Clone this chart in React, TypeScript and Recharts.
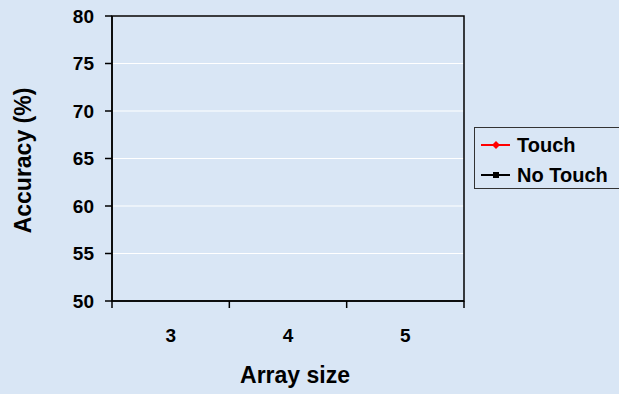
import React from 'react';
import { LineChart, Line, XAxis, YAxis, CartesianGrid, Legend, ReferenceArea } from 'recharts';

// Categories (array sizes) and series values. No data points are visible in the
// reference plot area, so the series are empty.
const arraySizes = [3, 4, 5];
const touchAccuracy: (number | null)[] = [null, null, null];
const noTouchAccuracy: (number | null)[] = [null, null, null];
const yTicks = [50, 55, 60, 65, 70, 75, 80];
const xTicks = [2.5, 3, 3.5, 4, 4.5, 5, 5.5];
const xDomain = [2.5, 5.5];
const yDomain = [50, 80];
const seriesNames = ['Touch', 'No Touch'];
const seriesKeys = ['touch', 'noTouch'];
const seriesColors = ['#ff0000', '#000000'];

const data = arraySizes.map((s, i) => ({
  size: s,
  touch: touchAccuracy[i],
  noTouch: noTouchAccuracy[i],
}));

const FONT = '"Liberation Sans", Arial, Helvetica, sans-serif';
const BG = '#d9e6f5';

const XTick = (props: any) => {
  const { x, y, payload } = props;
  const v = payload.value;
  if (Number.isInteger(v)) {
    return (
      <text x={x} y={y + 34} textAnchor="middle" fontSize={19} fontWeight="bold" fill="#000" fontFamily={FONT}>
        {v}
      </text>
    );
  }
  return <line x1={x} x2={x} y1={y - 7} y2={y} stroke="#000" strokeWidth={1.5} />;
};

const Diamond = (props: any) => {
  const { cx, cy, stroke } = props;
  if (cx == null || cy == null) return null;
  return <path d={`M${cx},${cy - 4}L${cx + 4},${cy}L${cx},${cy + 4}L${cx - 4},${cy}Z`} fill={stroke} />;
};
const Square = (props: any) => {
  const { cx, cy, stroke } = props;
  if (cx == null || cy == null) return null;
  return <rect x={cx - 3} y={cy - 3} width={6} height={6} fill={stroke} />;
};

const LegendContent = (props: any) => {
  const payload = [...(props.payload || [])].sort(
    (a: any, b: any) => seriesKeys.indexOf(a.dataKey) - seriesKeys.indexOf(b.dataKey)
  );
  return (
    <div
      style={{
        width: 160,
        height: 62,
        boxSizing: 'border-box',
        border: '1px solid #333',
        paddingTop: 2,
        fontFamily: FONT,
      }}
    >
      {payload.map((p: any, i: number) => (
        <div key={i} style={{ display: 'flex', alignItems: 'center', height: 30 }}>
          <svg width={42} height={30} style={{ flex: 'none' }}>
            <line x1={6} x2={35} y1={15} y2={15} stroke={p.color} strokeWidth={2} />
            {p.dataKey === 'touch' ? (
              <path d="M21,11L25,15L21,19L17,15Z" fill={p.color} />
            ) : (
              <rect x={18} y={12} width={6} height={6} fill={p.color} />
            )}
          </svg>
          <span style={{ fontSize: 20, fontWeight: 'bold', color: '#000', lineHeight: '30px', whiteSpace: 'nowrap' }}>
            {p.value}
          </span>
        </div>
      ))}
    </div>
  );
};

export default function App() {
  return (
    <div
      style={{
        position: 'absolute',
        left: 0,
        top: 0,
        width: 619,
        height: 394,
        overflow: 'hidden',
        background: BG,
      }}
    >
      <LineChart width={619} height={394} data={data} margin={{ top: 16, right: 155, bottom: 0, left: 0 }}>
        <CartesianGrid horizontal vertical={false} stroke="#ffffff" strokeWidth={1.2} />
        <XAxis
          dataKey="size"
          type="number"
          domain={xDomain}
          allowDataOverflow
          ticks={xTicks}
          interval={0}
          height={93}
          tickSize={7}
          tickMargin={0}
          tickLine={false}
          axisLine={{ stroke: '#000', strokeWidth: 1.5 }}
          tick={<XTick />}
          label={(p: any) => {
            const vb = p.viewBox;
            return (
              <text
                x={vb.x + vb.width / 2 + 7}
                y={383}
                textAnchor="middle"
                fontSize={23}
                fontWeight="bold"
                fill="#000"
                fontFamily={FONT}
              >
                Array size
              </text>
            );
          }}
        />
        <YAxis
          type="number"
          domain={yDomain}
          allowDataOverflow
          ticks={yTicks}
          interval={0}
          width={112}
          tickSize={7}
          tickMargin={11}
          tickLine={{ stroke: '#000', strokeWidth: 1.5 }}
          axisLine={{ stroke: '#000', strokeWidth: 1.5 }}
          tick={{ fontSize: 19, fontWeight: 'bold', fill: '#000', fontFamily: FONT }}
          label={(p: any) => {
            const vb = p.viewBox;
            const cy = vb.y + vb.height / 2 + 2;
            return (
              <text
                x={31}
                y={cy}
                transform={`rotate(-90, 31, ${cy})`}
                textAnchor="middle"
                fontSize={23}
                fontWeight="bold"
                fill="#000"
                fontFamily={FONT}
              >
                Accuracy (%)
              </text>
            );
          }}
        />
        <ReferenceArea
          x1={xDomain[0]}
          x2={xDomain[1]}
          y1={yDomain[0]}
          y2={yDomain[1]}
          fill="none"
          fillOpacity={0}
          stroke="#000"
          strokeWidth={1.5}
          strokeOpacity={1}
          ifOverflow="visible"
        />
        <Legend
          layout="horizontal"
          verticalAlign="middle"
          align="center"
          content={<LegendContent />}
          wrapperStyle={{ position: 'absolute', left: 474, top: 127, width: 160, height: 62 }}
        />
        <Line
          name={seriesNames[0]}
          dataKey="touch"
          stroke={seriesColors[0]}
          strokeWidth={2}
          dot={<Diamond />}
          isAnimationActive={false}
          connectNulls={false}
        />
        <Line
          name={seriesNames[1]}
          dataKey="noTouch"
          stroke={seriesColors[1]}
          strokeWidth={2}
          dot={<Square />}
          isAnimationActive={false}
          connectNulls={false}
        />
      </LineChart>
    </div>
  );
}
